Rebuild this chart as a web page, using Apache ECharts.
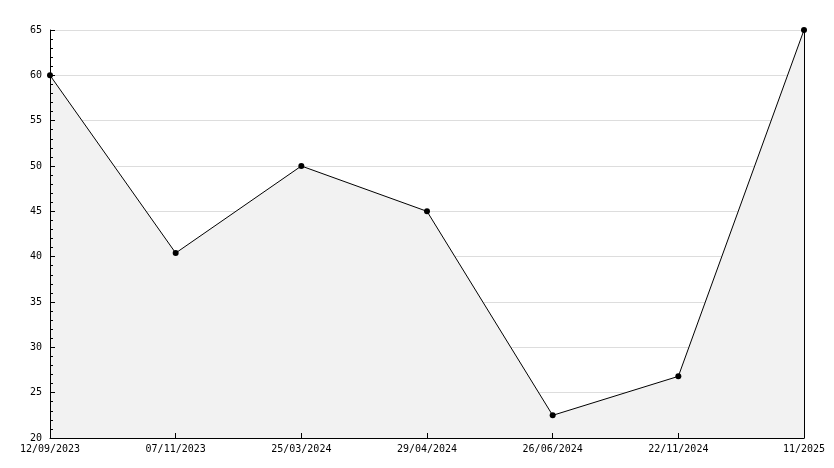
<!DOCTYPE html>
<html><head><meta charset="utf-8">
<script src="https://cdn.jsdelivr.net/npm/echarts@6/dist/echarts.min.js"></script>
<style>html,body{margin:0;padding:0;background:#fff}#c{width:834px;height:468px}</style>
</head><body><div id="c"></div>
<script>
const categories = ['12/09/2023','07/11/2023','25/03/2024','29/04/2024','26/06/2024','22/11/2024','11/2025'];
const values = [60, 40.4, 50, 45, 22.5, 26.8, 65];
const yMin = 20, yMax = 65, yStep = 5;

const chart = echarts.init(document.getElementById('c'), null, {renderer:'canvas'});
const font = {fontFamily:'DejaVu Sans Mono', fontSize:10, color:'#000'};
chart.setOption({
  animation:false,
  grid:{left:50, right:30, top:30, bottom:30, containLabel:false},
  xAxis:{type:'category', data:categories, boundaryGap:false, z:10,
    axisLine:{lineStyle:{color:'#000', width:1}},
    axisTick:{inside:true, length:5, lineStyle:{color:'#000'}},
    axisLabel:Object.assign({margin:6, interval:0}, font),
    splitLine:{show:false}},
  yAxis:[
   {type:'value', min:yMin, max:yMax, interval:yStep, z:0,
    axisLine:{show:false}, axisTick:{show:false}, axisLabel:{show:false},
    splitLine:{show:true, lineStyle:{color:'#dddddd', width:1}}},
   {type:'value', min:yMin, max:yMax, interval:yStep, position:'left', z:10,
    axisLine:{show:true, lineStyle:{color:'#000', width:1}},
    axisTick:{show:true, inside:true, length:5, lineStyle:{color:'#000'}},
    minorTick:{show:true, splitNumber:5, length:3, lineStyle:{color:'#000'}},
    axisLabel:Object.assign({margin:8}, font),
    splitLine:{show:false}},
   {type:'value', min:yMin, max:yMax, interval:yStep, position:'right', z:10,
    axisLine:{show:true, lineStyle:{color:'#000', width:1}},
    axisTick:{show:false}, axisLabel:{show:false}, splitLine:{show:false}}],
  series:[{type:'line', data:values, yAxisIndex:0, z:2,
    symbol:'circle', symbolSize:6, showSymbol:true,
    itemStyle:{color:'#000'},
    lineStyle:{color:'#000', width:1},
    areaStyle:{color:'#f2f2f2', opacity:1}}]
});
</script></body></html>
